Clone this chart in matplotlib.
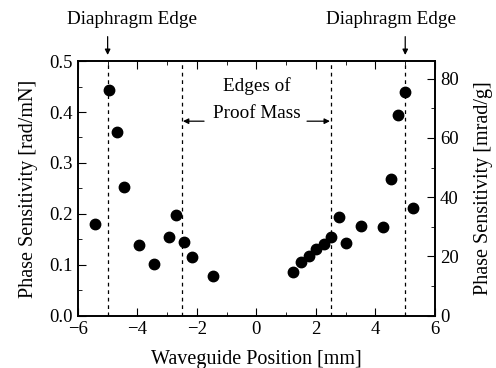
import matplotlib
matplotlib.use("Agg")
import matplotlib.pyplot as plt
from matplotlib.ticker import MultipleLocator

plt.rcParams['font.family'] = ['Liberation Serif', 'DejaVu Serif']

position = [-5.44, -4.96, -4.69, -4.44, -3.95, -3.45, -2.95, -2.69, -2.45, -2.18, -1.45,
            1.24, 1.50, 1.75, 2.00, 2.26, 2.50, 2.76, 3.01, 3.51, 4.26, 4.51, 4.77, 5.00, 5.25]
sensitivity = [0.181, 0.444, 0.361, 0.253, 0.139, 0.102, 0.154, 0.197, 0.145, 0.115, 0.079,
               0.085, 0.105, 0.118, 0.132, 0.141, 0.155, 0.193, 0.143, 0.176, 0.175, 0.268, 0.394, 0.439, 0.211]
diaphragm_edges = [-5, 5]
diaphragm_text_x = [-4.18, 4.52]
proof_mass_edges = [-2.5, 2.5]
conv = 171.8  # mrad/g per rad/mN

fig = plt.figure(figsize=(4.96, 3.68), dpi=100)
ax = fig.add_axes([0.157, 0.142, 0.72, 0.692])
ax.plot(position, sensitivity, 'o', color='black', markersize=7.5)
for xv in diaphragm_edges + proof_mass_edges:
    ax.axvline(xv, color='black', linestyle=(0, (3, 3)), linewidth=0.9)

ax.set_xlim(-6, 6)
ax.set_ylim(0, 0.5)
ax.xaxis.set_major_locator(MultipleLocator(2))
ax.xaxis.set_minor_locator(MultipleLocator(1))
ax.yaxis.set_major_locator(MultipleLocator(0.1))
ax.yaxis.set_minor_locator(MultipleLocator(0.05))
ax.yaxis.set_major_formatter(matplotlib.ticker.FormatStrFormatter('%.1f'))
ax.tick_params(which='both', direction='in', top=True, right=False, labelsize=13.5)
ax.tick_params(which='major', length=6)
ax.tick_params(which='minor', length=3)
ax.set_xticks([-6, -4, -2, 0, 2, 4, 6])
ax.set_xticklabels(['\u22126', '\u22124', '\u22122', '0', '2', '4', '6'])
ax.set_xlabel('Waveguide Position [mm]', fontsize=14.5, labelpad=9)
ax.set_ylabel('Phase Sensitivity [rad/mN]', fontsize=14.5, labelpad=8)

ax2 = ax.twinx()
ax2.set_ylim(0, 0.5 * conv)
ax2.yaxis.set_major_locator(MultipleLocator(20))
ax2.yaxis.set_minor_locator(MultipleLocator(10))
ax2.tick_params(which='both', direction='in', labelsize=13.5)
ax2.tick_params(which='major', length=6)
ax2.tick_params(which='minor', length=3)
ax2.set_ylabel('Phase Sensitivity [mrad/g]', fontsize=14.5, labelpad=11)

for a in [ax, ax2]:
    for s in a.spines.values():
        s.set_linewidth(1.2)

arrow_kw = dict(arrowstyle='-|>', color='black', lw=0.9, shrinkA=0, shrinkB=0,
                mutation_scale=8)

# Diaphragm edge labels with vertical arrows
for xv, tx in zip(diaphragm_edges, diaphragm_text_x):
    ax.text(tx, 0.581, 'Diaphragm Edge', ha='center', va='center', fontsize=13.8,
            clip_on=False)
    ax.annotate('', xy=(xv, 0.512), xytext=(xv, 0.548), arrowprops=arrow_kw,
                annotation_clip=False)

ax.text(0, 0.451, 'Edges of', ha='center', va='center', fontsize=13.8)
ax.text(0, 0.398, 'Proof Mass', ha='center', va='center', fontsize=13.8)
ax.annotate('', xy=(-2.47, 0.382), xytext=(-1.76, 0.382), arrowprops=arrow_kw)
ax.annotate('', xy=(2.47, 0.382), xytext=(1.70, 0.382), arrowprops=arrow_kw)

fig.savefig('out.png', dpi=100)
